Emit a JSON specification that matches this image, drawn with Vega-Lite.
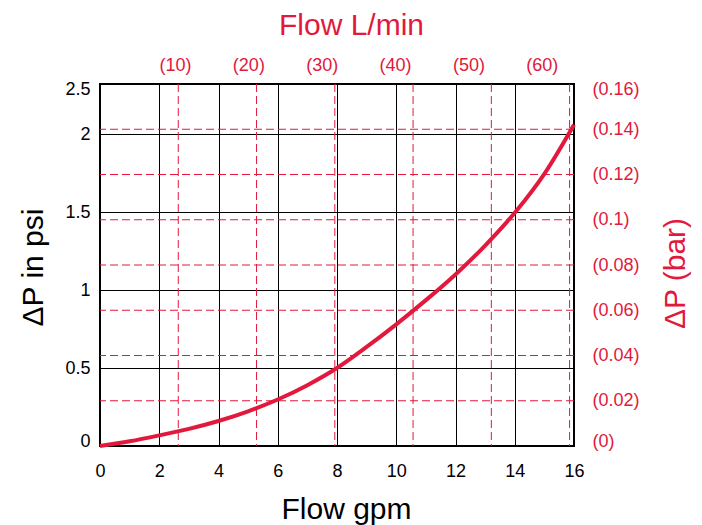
{
  "$schema": "https://vega.github.io/schema/vega-lite/v6.json",
  "width": 474,
  "height": 362,
  "autosize": {"type": "none"},
  "padding": {"left": 100, "top": 84, "right": 128, "bottom": 79},
  "background": "white",
  "config": {
    "view": {"stroke": "black", "strokeWidth": 2},
    "font": "Liberation Sans",
    "axis": {
      "domain": false,
      "ticks": false,
      "labelFont": "Liberation Sans",
      "titleFont": "Liberation Sans",
      "labelFontSize": 18,
      "titleFontSize": 30,
      "titleFontWeight": "normal",
      "labelColor": "black",
      "titleColor": "black"
    }
  },
  "datasets": {
    "curve": [
      {"gpm": 0, "psi": 0},
      {"gpm": 1, "psi": 0.03},
      {"gpm": 2, "psi": 0.068},
      {"gpm": 3, "psi": 0.11},
      {"gpm": 4, "psi": 0.16},
      {"gpm": 5, "psi": 0.222},
      {"gpm": 6, "psi": 0.298},
      {"gpm": 7, "psi": 0.39},
      {"gpm": 8, "psi": 0.5},
      {"gpm": 9, "psi": 0.635},
      {"gpm": 10, "psi": 0.78},
      {"gpm": 11, "psi": 0.935},
      {"gpm": 12, "psi": 1.1},
      {"gpm": 13, "psi": 1.285},
      {"gpm": 14, "psi": 1.495},
      {"gpm": 15, "psi": 1.745},
      {"gpm": 16, "psi": 2.06}
    ],
    "lmin": [
      {"Lmin": 10, "gpm": 2.642},
      {"Lmin": 20, "gpm": 5.284},
      {"Lmin": 30, "gpm": 7.926},
      {"Lmin": 40, "gpm": 10.567},
      {"Lmin": 50, "gpm": 13.209},
      {"Lmin": 60, "gpm": 15.851}
    ],
    "bar": [
      {"bar": 0.02},
      {"bar": 0.04},
      {"bar": 0.06},
      {"bar": 0.08},
      {"bar": 0.1},
      {"bar": 0.12},
      {"bar": 0.14}
    ]
  },
  "layer": [
    {
      "data": {"name": "lmin"},
      "mark": {"type": "rule", "color": "#e2193c", "strokeWidth": 1, "strokeDash": [8, 4]},
      "encoding": {
        "x": {"field": "gpm", "type": "quantitative", "scale": {"domain": [0, 16], "nice": false, "zero": false}, "axis": null}
      }
    },
    {
      "data": {"name": "bar"},
      "mark": {"type": "rule", "color": "#e2193c", "strokeWidth": 1, "strokeDash": [8, 4]},
      "encoding": {
        "y": {
          "field": "bar",
          "type": "quantitative",
          "scale": {"domain": [0, 0.16], "nice": false, "zero": false},
          "axis": {
            "orient": "right",
            "values": [0, 0.02, 0.04, 0.06, 0.08, 0.1, 0.12, 0.14, 0.16],
            "labelExpr": "'(' + datum.value + ')'",
            "labelColor": "#e2193c",
            "labelPadding": 18,
            "labelFlush": true,
            "labelFlushOffset": 4,
            "grid": false,
            "title": "ΔP (bar)",
            "titleColor": "#e2193c",
            "titleAngle": -90,
            "titleBaseline": "alphabetic",
            "titleX": 110,
            "titleY": 189
          }
        }
      }
    },
    {
      "data": {"name": "lmin"},
      "mark": {"type": "point", "opacity": 0},
      "encoding": {
        "x": {
          "field": "Lmin",
          "type": "quantitative",
          "scale": {"domain": [-0.23, 64.4], "nice": false, "zero": false},
          "axis": {
            "orient": "top",
            "values": [10, 20, 30, 40, 50, 60],
            "labelExpr": "'(' + datum.value + ')'",
            "labelColor": "#e2193c",
            "labelBaseline": "alphabetic",
            "labelPadding": 14,
            "labelFlush": false,
            "grid": false,
            "title": "Flow L/min",
            "titleColor": "#e2193c",
            "titleBaseline": "alphabetic",
            "titleX": 251,
            "titleY": -50
          }
        }
      }
    },
    {
      "data": {"name": "curve"},
      "mark": {"type": "line", "color": "#e2193c", "strokeWidth": 4, "interpolate": "monotone"},
      "encoding": {
        "x": {
          "field": "gpm",
          "type": "quantitative",
          "scale": {"domain": [0, 16], "nice": false, "zero": false},
          "axis": {
            "orient": "bottom",
            "values": [0, 2, 4, 6, 8, 10, 12, 14, 16],
            "labelBaseline": "alphabetic",
            "labelPadding": 30,
            "labelFlush": false,
            "grid": true,
            "gridColor": "black",
            "gridOpacity": 1,
            "gridWidth": 1,
            "title": "Flow gpm",
            "titleBaseline": "alphabetic",
            "titleX": 246,
            "titleY": 72
          }
        },
        "y": {
          "field": "psi",
          "type": "quantitative",
          "scale": {"domain": [0, 2.3206], "nice": false, "zero": false},
          "axis": {
            "orient": "left",
            "values": [0, 0.5, 1, 1.5, 2, 2.3206],
            "labelExpr": "datum.value > 2.2 ? '2.5' : '' + datum.value",
            "labelPadding": 10,
            "labelFlush": true,
            "labelFlushOffset": 4,
            "grid": true,
            "gridColor": "black",
            "gridOpacity": 1,
            "gridWidth": 1,
            "title": "ΔP in psi",
            "titleAngle": -90,
            "titleBaseline": "alphabetic",
            "titleX": -58,
            "titleY": 183
          }
        }
      }
    }
  ],
  "resolve": {
    "scale": {"x": "independent", "y": "independent"},
    "axis": {"x": "independent", "y": "independent"}
  }
}
